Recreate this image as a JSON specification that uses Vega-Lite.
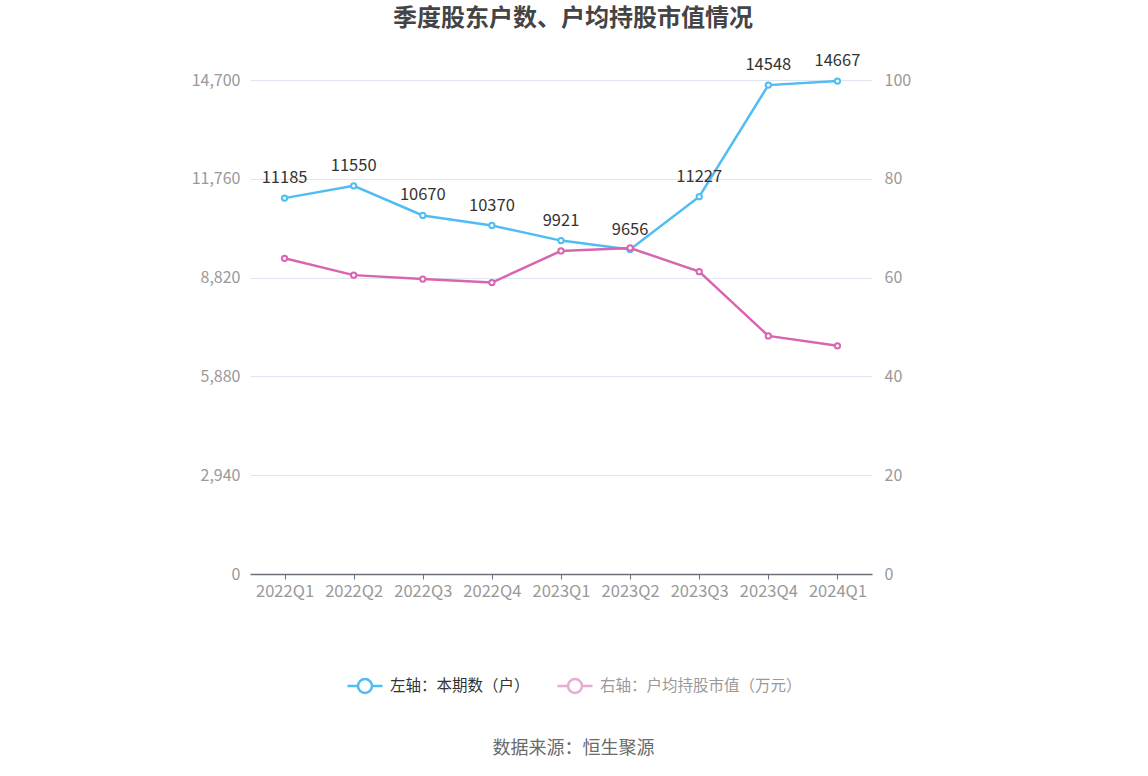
{
  "$schema": "https://vega.github.io/schema/vega-lite/v6.json",
  "autosize": "none",
  "width": 622,
  "height": 494,
  "padding": {"left": 250, "top": 80, "right": 276, "bottom": 202},
  "background": "white",
  "config": {
    "font": "Noto Sans CJK SC",
    "view": {"stroke": null}
  },
  "title": {
    "text": "季度股东户数、户均持股市值情况",
    "fontSize": 24,
    "fontWeight": "bold",
    "color": "#444444",
    "anchor": "middle",
    "dx": 12,
    "offset": 10,
    "baseline": "middle"
  },
  "data": {
    "values": [
      {"quarter": "2022Q1", "series": "左轴：本期数（户）", "value": 11185},
      {"quarter": "2022Q2", "series": "左轴：本期数（户）", "value": 11550},
      {"quarter": "2022Q3", "series": "左轴：本期数（户）", "value": 10670},
      {"quarter": "2022Q4", "series": "左轴：本期数（户）", "value": 10370},
      {"quarter": "2023Q1", "series": "左轴：本期数（户）", "value": 9921},
      {"quarter": "2023Q2", "series": "左轴：本期数（户）", "value": 9656},
      {"quarter": "2023Q3", "series": "左轴：本期数（户）", "value": 11227},
      {"quarter": "2023Q4", "series": "左轴：本期数（户）", "value": 14548},
      {"quarter": "2024Q1", "series": "左轴：本期数（户）", "value": 14667},
      {"quarter": "2022Q1", "series": "右轴：户均持股市值（万元）", "value": 63.9},
      {"quarter": "2022Q2", "series": "右轴：户均持股市值（万元）", "value": 60.5},
      {"quarter": "2022Q3", "series": "右轴：户均持股市值（万元）", "value": 59.7},
      {"quarter": "2022Q4", "series": "右轴：户均持股市值（万元）", "value": 59.0},
      {"quarter": "2023Q1", "series": "右轴：户均持股市值（万元）", "value": 65.4},
      {"quarter": "2023Q2", "series": "右轴：户均持股市值（万元）", "value": 66.0},
      {"quarter": "2023Q3", "series": "右轴：户均持股市值（万元）", "value": 61.2},
      {"quarter": "2023Q4", "series": "右轴：户均持股市值（万元）", "value": 48.2},
      {"quarter": "2024Q1", "series": "右轴：户均持股市值（万元）", "value": 46.2}
    ]
  },
  "encoding": {
    "x": {
      "field": "quarter",
      "type": "ordinal",
      "scale": {"type": "point", "padding": 0.5},
      "axis": {
        "title": "数据来源：恒生聚源",
        "titleFontSize": 18,
        "titleFontWeight": "normal",
        "titleColor": "#6a6a6a",
        "titlePadding": 140,
        "titleX": 323,
        "labelAngle": 0,
        "labelFontSize": 16.5,
        "labelColor": "#999999",
        "labelPadding": 4,
        "domainColor": "#6e7079",
        "domainWidth": 1.5,
        "tickColor": "#6e7079",
        "tickSize": 5,
        "grid": false
      }
    },
    "color": {
      "field": "series",
      "type": "nominal",
      "scale": {
        "domain": ["左轴：本期数（户）", "右轴：户均持股市值（万元）"],
        "range": ["#4fbdf3", "#d865b0"]
      },
      "legend": {
        "orient": "none",
        "direction": "horizontal",
        "legendX": 96,
        "legendY": 587,
        "title": null,
        "symbolType": "M-1,0L-0.4,0M0.4,0L1,0M0.4,0A0.4,0.4,0,1,1,-0.4,0A0.4,0.4,0,1,1,0.4,0Z",
        "symbolSize": 1225,
        "symbolStrokeWidth": 2.5,
        "symbolFillColor": "white",
        "labelFontSize": 15.5,
        "labelOffset": 6,
        "labelLimit": 400,
        "columnPadding": 22,
        "labelColor": "#333333",
        "encode": {
          "labels": {"update": {"fill": {"signal": "datum.index === 0 ? '#333333' : '#999999'"}}},
          "symbols": {"update": {"opacity": {"signal": "datum.index === 0 ? 1 : 0.55"}, "fill": {"value": "white"}, "fillOpacity": {"value": 1}}}
        }
      }
    }
  },
  "layer": [
    {
      "transform": [{"filter": "datum.series === '左轴：本期数（户）'"}],
      "encoding": {
        "y": {
          "field": "value",
          "type": "quantitative",
          "scale": {"domain": [0, 14700], "nice": false},
          "axis": {
            "orient": "left",
            "title": null,
            "values": [0, 2940, 5880, 8820, 11760, 14700],
            "format": ",.0f",
            "labelFontSize": 16,
            "labelColor": "#999999",
            "labelPadding": 10,
            "domain": false,
            "ticks": false,
            "grid": true,
            "gridColor": "#e0e6f1",
            "gridWidth": 1.2
          }
        }
      },
      "layer": [
        {"mark": {"type": "line", "strokeWidth": 2.5}},
        {"mark": {"type": "point", "filled": false, "fill": "white", "fillOpacity": 1, "size": 28, "strokeWidth": 2, "opacity": 1}},
        {
          "mark": {"type": "text", "dy": -20, "fontSize": 16.5, "color": "#333333"},
          "encoding": {"text": {"field": "value", "type": "quantitative", "format": "d"}, "color": {"value": "#333333"}}
        }
      ]
    },
    {
      "transform": [{"filter": "datum.series === '右轴：户均持股市值（万元）'"}],
      "encoding": {
        "y": {
          "field": "value",
          "type": "quantitative",
          "scale": {"domain": [0, 100], "nice": false},
          "axis": {
            "orient": "right",
            "title": null,
            "values": [0, 20, 40, 60, 80, 100],
            "labelFontSize": 16,
            "labelColor": "#999999",
            "labelPadding": 12,
            "domain": false,
            "ticks": false,
            "grid": false
          }
        }
      },
      "layer": [
        {"mark": {"type": "line", "strokeWidth": 2.5}},
        {"mark": {"type": "point", "filled": false, "fill": "white", "fillOpacity": 1, "size": 28, "strokeWidth": 2, "opacity": 1}}
      ]
    }
  ],
  "resolve": {"scale": {"y": "independent"}}
}
